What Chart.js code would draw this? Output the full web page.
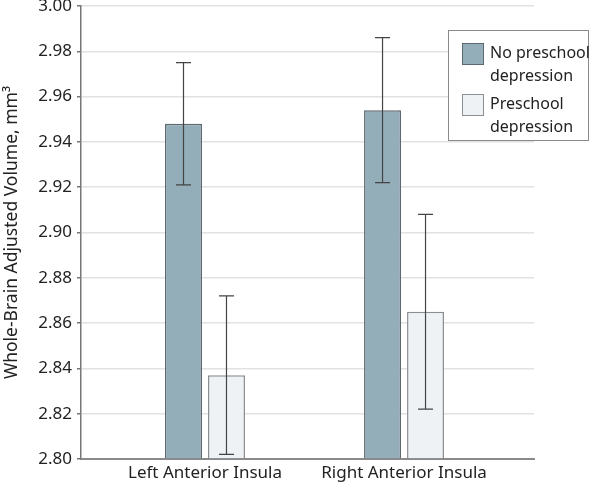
<!DOCTYPE html>
<html>
<head>
<meta charset="utf-8">
<script src="https://cdn.jsdelivr.net/npm/chart.js@4/dist/chart.umd.min.js"></script>
<style>
  body { margin: 0; background: #fff; }
  #wrap { position: relative; width: 600px; height: 488px; }
  #legend {
    position: absolute; left: 448px; top: 30px; width: 139px; height: 109px;
    border: 1.5px solid #8a8a8a; background: #fff;
    font-family: "Noto Sans", sans-serif; font-size: 16px; color: #222;
  }
  .item { position: absolute; left: 13px; line-height: 23px; white-space: nowrap; }
  .sw { position: absolute; left: 0; top: 2px; width: 20px; height: 20px; }
  .lbl { margin-left: 28px; }
</style>
</head>
<body>
<div id="wrap">
  <canvas id="chart" width="600" height="488"></canvas>
  <div id="legend"></div>
</div>
<script>
const categories = ["Left Anterior Insula", "Right Anterior Insula"];
const seriesNames = [["No preschool", "depression"], ["Preschool", "depression"]];
const noDepression = [2.948, 2.954];
const noDepressionLow = [2.921, 2.922];
const noDepressionHigh = [2.975, 2.986];
const depression = [2.837, 2.865];
const depressionLow = [2.802, 2.822];
const depressionHigh = [2.872, 2.908];
const yTicks = [2.80, 2.82, 2.84, 2.86, 2.88, 2.90, 2.92, 2.94, 2.96, 2.98, 3.00];

const fills = ["#93adb9", "#eef2f5"];
const borders = ["#5c6870", "#8a8f93"];

const font = "'Noto Sans', sans-serif";

// error bars drawn over the bars using the chart's own scales
const errorBars = {
  id: "errorBars",
  afterDatasetsDraw(chart) {
    const ctx = chart.ctx;
    const y = chart.scales.y;
    chart.data.datasets.forEach((ds, i) => {
      const meta = chart.getDatasetMeta(i);
      meta.data.forEach((bar, j) => {
        const top = y.getPixelForValue(ds.errHigh[j]);
        const bot = y.getPixelForValue(ds.errLow[j]);
        ctx.save();
        ctx.strokeStyle = "#444";
        ctx.lineWidth = 1.2;
        ctx.beginPath();
        ctx.moveTo(bar.x, top); ctx.lineTo(bar.x, bot);
        ctx.moveTo(bar.x - 7.5, top); ctx.lineTo(bar.x + 7.5, top);
        ctx.moveTo(bar.x - 7.5, bot); ctx.lineTo(bar.x + 7.5, bot);
        ctx.stroke();
        ctx.restore();
      });
    });
  }
};

function points(vals) {
  return vals.map((v, i) => ({ x: i + 1, y: v }));
}

new Chart("chart", {
  type: "bar",
  data: {
    datasets: [
      {
        label: seriesNames[0].join(" "),
        data: points(noDepression),
        errLow: noDepressionLow, errHigh: noDepressionHigh,
        backgroundColor: fills[0], borderColor: borders[0], borderWidth: 1.5,
        base: 2.8
      },
      {
        label: seriesNames[1].join(" "),
        data: points(depression),
        errLow: depressionLow, errHigh: depressionHigh,
        backgroundColor: fills[1], borderColor: borders[1], borderWidth: 1.5,
        base: 2.8
      }
    ]
  },
  options: {
    responsive: false,
    animation: false,
    layout: { padding: { top: 0, right: 66, bottom: 0, left: 0 } },
    datasets: { bar: { categoryPercentage: 0.432, barPercentage: 0.86 } },
    plugins: { legend: { display: false }, tooltip: { enabled: false } },
    scales: {
      x: {
        type: "linear",
        offset: false,
        min: 0.377, max: 2.653,
        afterBuildTicks: (s) => { s.ticks = categories.map((c, i) => ({ value: i + 1 })); },
        afterFit: (s) => { s.height = 29; s.paddingLeft = 0; s.paddingRight = 0; },
        ticks: {
          callback: (v) => categories[v - 1] || "",
          color: "#222", font: { family: font, size: 17 }, padding: 4, maxRotation: 0, autoSkip: false
        },
        grid: { display: false, drawTicks: false },
        border: { color: "#8a8a8a", width: 2 }
      },
      y: {
        min: 2.80, max: 3.00,
        afterBuildTicks: (s) => { s.ticks = yTicks.map(v => ({ value: v })); },
        afterFit: (s) => { s.width = 81; s.paddingTop = 6; s.paddingBottom = 0; },
        ticks: {
          callback: (v) => v.toFixed(2),
          color: "#222", font: { family: font, size: 17 }, padding: 5
        },
        grid: { color: "#e2e2e2", lineWidth: 1.5, tickLength: 4, tickColor: "#777" },
        border: { color: "#777", width: 1.5 },
        title: {
          display: true, text: "Whole-Brain Adjusted Volume, mm³",
          color: "#222", font: { family: font, size: 17.5 }, padding: { top: 2, bottom: 0 }
        }
      }
    }
  },
  plugins: [errorBars]
});

// legend as html, overlaying the plot like in the figure
const legend = document.getElementById("legend");
seriesNames.forEach((lines, i) => {
  const item = document.createElement("div");
  item.className = "item";
  item.style.top = (10 + i * 51) + "px";
  item.innerHTML = '<span class="sw" style="background:' + fills[i] + ';border:1.5px solid ' + borders[i] + '"></span>' +
    '<div class="lbl">' + lines.join("<br>") + "</div>";
  legend.appendChild(item);
});
</script>
</body>
</html>
